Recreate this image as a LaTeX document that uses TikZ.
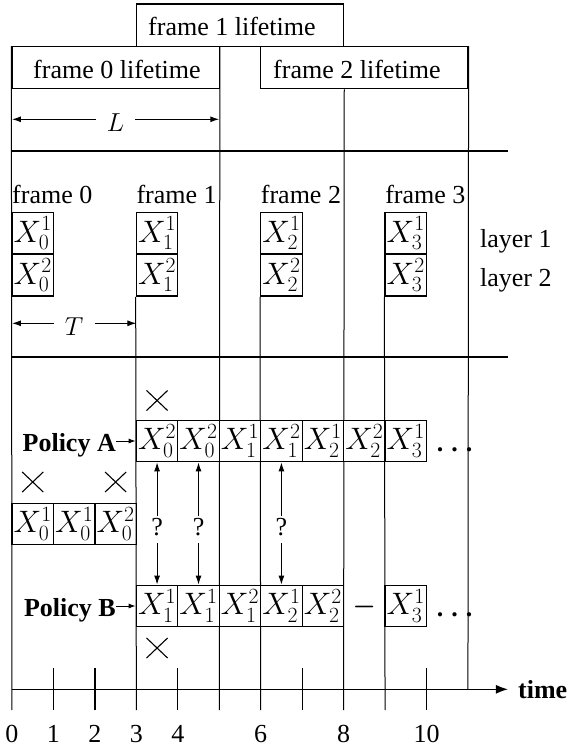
\RequirePackage{fix-cm}
\documentclass[tikz,border=0pt]{standalone}
\usepackage{bm}
\usepackage{fontspec}
\setmainfont{Liberation Serif}
\usetikzlibrary{arrows.meta,shapes.misc}
\begin{document}
\begin{tikzpicture}[x=41.45pt,y=-1pt,
  font=\fontsize{26}{30}\selectfont,
  xbox/.style={draw, line width=1.3pt, minimum width=41.45pt, minimum height=41.5pt, inner sep=0pt, font=\fontsize{31}{33}\selectfont},
  lifebox/.style={draw, line width=1.3pt, minimum width=207.25pt, inner sep=0pt},
  lbl/.style={inner sep=0pt},
  vline/.style={line width=1pt},
  tickline/.style={line width=1.3pt},
  sepline/.style={line width=2.4pt},
  xmark/.style={draw, cross out, minimum width=20pt, minimum height=19pt, inner sep=0pt, line width=1.1pt},
  arr/.style={-{Latex[length=9pt,width=6pt]}, line width=1pt},
  qmark/.style={inner sep=2pt},
  boldlbl/.style={inner sep=0pt, font=\fontsize{26}{30}\selectfont\bfseries},
]
\useasboundingbox (-0.2895,0) rectangle (13.4861,748);

% lifetime boxes
\node[lifebox, minimum height=42.7pt] (life1) at (5.5,25.35) {};
\node[lifebox, minimum height=42pt] (life0) at (2.5,67.7) {};
\node[lifebox, minimum height=42pt] (life2) at (8.5,67.7) {};
\node[lbl, anchor=base west] (life1t) at (3.281,35) {frame 1 lifetime};
\node[lbl, anchor=base west] (life0t) at (0.507,78.3) {frame 0 lifetime};
\node[lbl, anchor=base west] (life2t) at (6.297,78.3) {frame 2 lifetime};

% L arrow
\coordinate (L0) at (0,119.3);
\coordinate (L5) at (5,119.3);
\node[inner xsep=11pt, inner ysep=0pt] (Lt) at (2.5,123) {$L$};
\draw[arr] (Lt.west |- L0) -- (L0);
\draw[arr] (Lt.east |- L5) -- (L5);

% separator lines
\coordinate (s1a) at (0,150.7);
\coordinate (s1b) at (11.966,150.7);
\coordinate (s2a) at (0,356.7);
\coordinate (s2b) at (11.966,356.7);
\draw[sepline] (s1a) -- (s1b);
\draw[sepline] (s2a) -- (s2b);

% frame labels
\node[lbl, anchor=base west] (fr0) at (0,203.3) {frame 0};
\node[lbl, anchor=base west] (fr1) at (3,203.3) {frame 1};
\node[lbl, anchor=base west] (fr2) at (6,203.3) {frame 2};
\node[lbl, anchor=base west] (fr3) at (9,203.3) {frame 3};

% layer boxes
\node[xbox] (f0a) at (0.5,233.35) {$X_0^1$};
\node[xbox] (f0b) at (0.5,275.35) {$X_0^2$};
\node[xbox] (f1a) at (3.5,233.35) {$X_1^1$};
\node[xbox] (f1b) at (3.5,275.35) {$X_1^2$};
\node[xbox] (f2a) at (6.5,233.35) {$X_2^1$};
\node[xbox] (f2b) at (6.5,275.35) {$X_2^2$};
\node[xbox] (f3a) at (9.5,233.35) {$X_3^1$};
\node[xbox] (f3b) at (9.5,275.35) {$X_3^2$};
\node[lbl, anchor=base west] (lay1) at (11.29,247) {layer 1};
\node[lbl, anchor=base west] (lay2) at (11.29,286) {layer 2};

% T arrow
\coordinate (T0) at (0,323.3);
\coordinate (T3) at (3,323.3);
\node[inner xsep=11pt, inner ysep=0pt] (Tt) at (1.5,327) {$T$};
\draw[arr] (Tt.west |- T0) -- (T0);
\draw[arr] (Tt.east |- T3) -- (T3);

% vertical lines
\draw[vline] (life0.north west) -- (0,710);
\draw[vline] (f1b.south west) -- (3,710);
\draw[vline] (life0.north east) -- (5,710);
\draw[vline] (f2b.south west) -- (6,710);
\draw[vline] (life2.south -| life1.south east) -- (8,710);
\draw[vline] (f3b.south west) -- (9,710);
\draw[vline] (life2.north east) -- (11,689.3);
\foreach \t in {1,2,4,7,10} \draw[tickline] (\t,668) -- (\t,710);

% Policy A row
\node[xbox, fill=white] (a1) at (3.5,441) {$X_0^2$};
\node[xbox, fill=white] (a2) at (4.5,441) {$X_0^2$};
\node[xbox, fill=white] (a3) at (5.5,441) {$X_1^1$};
\node[xbox, fill=white] (a4) at (6.5,441) {$X_1^2$};
\node[xbox, fill=white] (a5) at (7.5,441) {$X_2^1$};
\node[xbox, fill=white] (a6) at (8.5,441) {$X_2^2$};
\node[xbox, fill=white] (a7) at (9.5,441) {$X_3^1$};
\node[boldlbl, anchor=base west] (adots) at (10.246,451) {.\hspace{8pt}.\hspace{8pt}.};
\node[boldlbl, anchor=base east] (polA) at (2.509,451.7) {Policy A};
\draw[-{Latex[length=7pt,width=5pt]}, line width=1pt] (polA.east |- a1.west) -- (a1.west);

% dropped frame-0 row
\node[xbox] (d1) at (0.5,524) {$X_0^1$};
\node[xbox] (d2) at (1.5,524) {$X_0^1$};
\node[xbox] (d3) at (2.5,524) {$X_0^2$};

% Policy B row
\node[xbox, fill=white] (b1) at (3.5,606) {$X_1^1$};
\node[xbox, fill=white] (b2) at (4.5,606) {$X_1^1$};
\node[xbox, fill=white] (b3) at (5.5,606) {$X_1^2$};
\node[xbox, fill=white] (b4) at (6.5,606) {$X_2^1$};
\node[xbox, fill=white] (b5) at (7.5,606) {$X_2^2$};
\node (bdash) at (8.5,607) {$\bm{-}$};
\node[xbox, fill=white] (b7) at (9.5,606) {$X_3^1$};
\node[boldlbl, anchor=base west] (bdots) at (10.246,616) {.\hspace{8pt}.\hspace{8pt}.};
\node[boldlbl, anchor=base east] (polB) at (2.509,616.7) {Policy B};
\draw[-{Latex[length=7pt,width=5pt]}, line width=1pt] (polB.east |- b1.west) -- (b1.west);

% question marks and arrows
\node[qmark] (q1) at (3.5,527) {?};
\node[qmark] (q2) at (4.5,527) {?};
\node[qmark] (q3) at (6.5,527) {?};
\foreach \q/\a/\b in {q1/a1/b1, q2/a2/b2, q3/a4/b4} {
  \draw[arr] (\q.north) -- (\a.south);
  \draw[arr, shorten <=5pt] (\q.south) -- (\b.north);
}

% crosses
\node[xmark] (x1) at (3.5,400.5) {};
\node[xmark] (x2) at (0.5,482) {};
\node[xmark] (x3) at (2.5,482) {};
\node[xmark] (x4) at (3.5,648) {};

% time axis
\coordinate (ax0) at (0,689.3);
\coordinate (ax1) at (11.966,689.3);
\draw[line width=1.3pt, -{Latex[length=12pt,width=9pt]}] (ax0) -- (ax1);
\node[boldlbl, anchor=base west] (timelbl) at (12.207,698) {time};
\foreach \t in {0,1,2,3,4,6,8,10} \node[lbl, anchor=base] (n\t) at (\t,742) {\t};
\end{tikzpicture}
\end{document}
